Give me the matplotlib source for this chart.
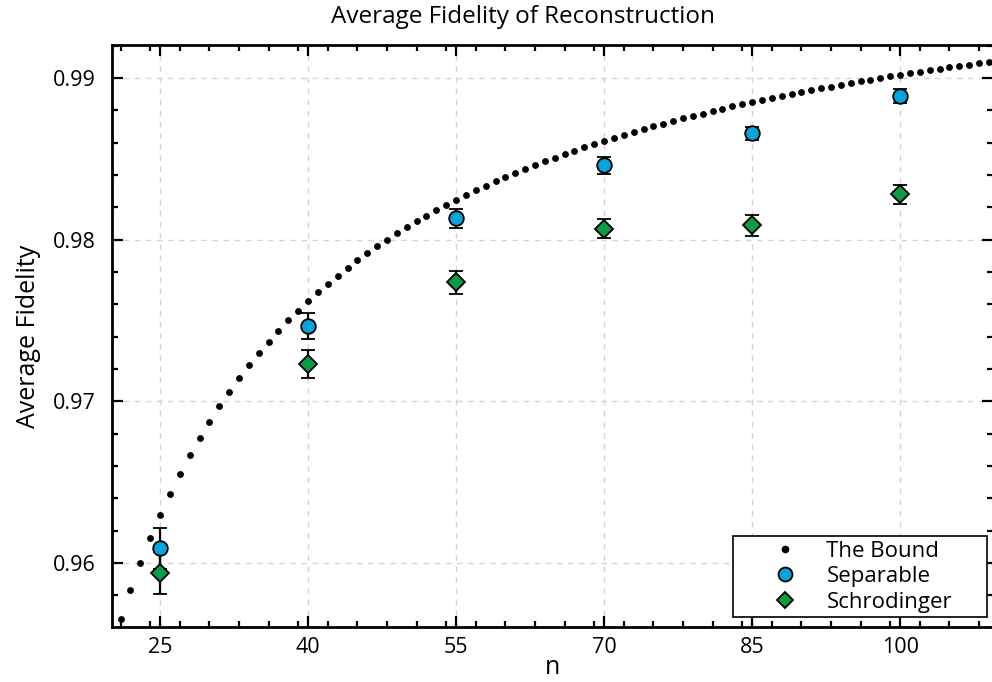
import numpy as np
import matplotlib
matplotlib.use('Agg')
import matplotlib.pyplot as plt
from matplotlib.ticker import MultipleLocator
from matplotlib.lines import Line2D

plt.rcParams['font.family'] = ['Open Sans', 'DejaVu Sans']

# puntos medidos
n_exp = [25, 40, 55, 70, 85, 100]
sep = [0.96091, 0.97464, 0.98132, 0.98459, 0.98657, 0.98889]
sep_err = [0.00126, 0.00080, 0.00060, 0.00050, 0.00042, 0.00042]
schro = [0.95936, 0.97231, 0.97736, 0.98068, 0.98088, 0.98280]
schro_err = [0.00130, 0.00087, 0.00073, 0.00060, 0.00064, 0.00060]

# la cota (n = 21..109)
n_bound = np.arange(21, 110)
bound = [0.95652, 0.95833, 0.96000, 0.96154, 0.96296, 0.96429, 0.96552, 0.96667,
         0.96774, 0.96875, 0.96970, 0.97059, 0.97143, 0.97222, 0.97297, 0.97368,
         0.97436, 0.97500, 0.97561, 0.97619, 0.97674, 0.97727, 0.97778, 0.97826,
         0.97872, 0.97917, 0.97959, 0.98000, 0.98039, 0.98077, 0.98113, 0.98148,
         0.98182, 0.98214, 0.98246, 0.98276, 0.98305, 0.98333, 0.98361, 0.98387,
         0.98413, 0.98438, 0.98462, 0.98485, 0.98507, 0.98529, 0.98551, 0.98571,
         0.98592, 0.98611, 0.98630, 0.98649, 0.98667, 0.98684, 0.98701, 0.98718,
         0.98734, 0.98750, 0.98765, 0.98780, 0.98795, 0.98810, 0.98824, 0.98837,
         0.98851, 0.98864, 0.98876, 0.98889, 0.98901, 0.98913, 0.98925, 0.98936,
         0.98947, 0.98958, 0.98969, 0.98980, 0.98990, 0.99000, 0.99010, 0.99020,
         0.99029, 0.99038, 0.99048, 0.99057, 0.99065, 0.99074, 0.99083, 0.99091,
         0.99099]

x_ticks = [25, 40, 55, 70, 85, 100]
y_ticks = [0.96, 0.97, 0.98, 0.99]

azul = '#0aa3d8'
verde = '#0c9a47'

fig = plt.figure(figsize=(9.92, 6.82), dpi=100)
ax = fig.add_axes([112 / 992, 1 - 627 / 682, 881 / 992, 582 / 682])

ax.plot(n_bound, bound, 'o', color='black', markersize=3.9, zorder=3)
ax.errorbar(n_exp, sep, yerr=sep_err, fmt='o', ecolor='black',
            markerfacecolor=azul, markeredgecolor='black', markeredgewidth=1.3,
            markersize=10.5, capsize=5, capthick=1.6, elinewidth=1.6, zorder=4)
ax.errorbar(n_exp, schro, yerr=schro_err, fmt='D', ecolor='black',
            markerfacecolor=verde, markeredgecolor='black', markeredgewidth=1.3,
            markersize=9, capsize=5, capthick=1.6, elinewidth=1.6, zorder=4)

ax.set_xlim(20.13, 109.42)
ax.set_ylim(0.95604, 0.99204)
ax.set_xticks(x_ticks)
ax.set_yticks(y_ticks)
ax.set_yticklabels(['0.96', '0.97', '0.98', '0.99'])
ax.xaxis.set_minor_locator(MultipleLocator(3))
ax.yaxis.set_minor_locator(MultipleLocator(0.002))
ax.tick_params(which='both', direction='in', top=True, right=True, labelsize=15.5, width=1.6)
ax.tick_params(which='major', length=8)
ax.tick_params(which='minor', length=4.5)
ax.tick_params(axis='x', pad=7)
ax.tick_params(axis='y', pad=12)

for s in ax.spines.values():
    s.set_linewidth(2)

ax.grid(True, which='major', linestyle=(0, (4, 4)), color='#d3d3d3', linewidth=1)
ax.set_axisbelow(True)

fig.text(523 / 992, 1 - 17 / 682, 'Average Fidelity of Reconstruction',
         fontsize=17.5, ha='center', va='center')
ax.set_xlabel('n', fontsize=18, labelpad=-2)
ax.set_ylabel('Average Fidelity', fontsize=18, labelpad=8)

handles = [
    Line2D([], [], linestyle='none', marker='o', color='black', markersize=4.5),
    Line2D([], [], linestyle='none', marker='o', markerfacecolor=azul,
           markeredgecolor='black', markeredgewidth=1.3, markersize=10),
    Line2D([], [], linestyle='none', marker='D', markerfacecolor=verde,
           markeredgecolor='black', markeredgewidth=1.3, markersize=8.5),
]
leg = ax.legend(handles, ['The Bound', 'Separable', 'Schrodinger'],
                loc='lower left', bbox_to_anchor=(0.7049, 0.0172, 0.2883, 0.1409),
                mode='expand', fontsize=16,
                frameon=True, fancybox=False, edgecolor='black', framealpha=1,
                borderpad=0.2, labelspacing=0.2, handletextpad=-0.3,
                handlelength=4.3, borderaxespad=0)
leg.get_frame().set_linewidth(1.2)

fig.savefig('out.png', dpi=100)
